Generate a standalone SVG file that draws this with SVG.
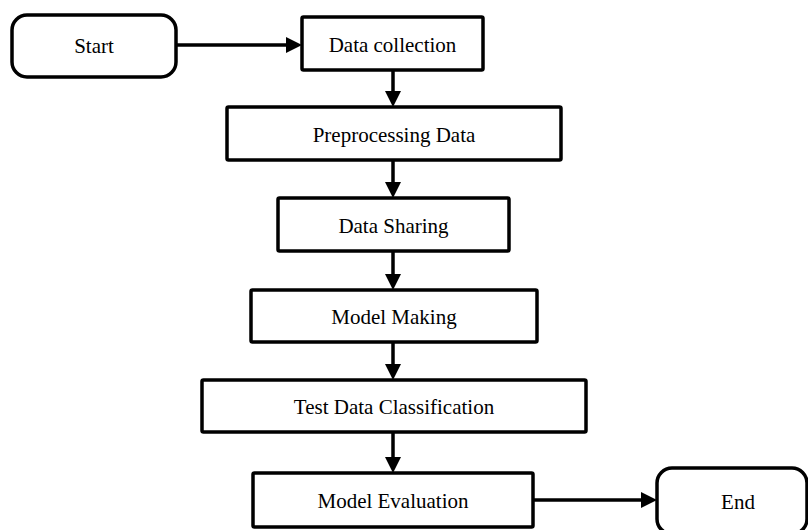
<svg xmlns="http://www.w3.org/2000/svg" width="808" height="530" viewBox="0 0 808 530">
<defs>
<marker id="ah" markerUnits="userSpaceOnUse" markerWidth="16" markerHeight="16" refX="8" refY="8" orient="auto" viewBox="0 0 16 16">
<path d="M0,0 L16,8 L0,16 z" fill="#000"/>
</marker>
</defs>
<style>
.box{fill:#fff;stroke:#000;stroke-width:3.5}
.lbl{font-family:"Liberation Serif","Times New Roman",serif;font-size:21px;fill:#000;text-anchor:middle}
.conn{stroke:#000;stroke-width:3.5;fill:none;marker-end:url(#ah)}
</style>
<rect width="808" height="530" fill="#fff"/>
<g id="connectors">
<line class="conn" x1="176" y1="45" x2="294" y2="45"/>
<line class="conn" x1="393" y1="70" x2="393" y2="99"/>
<line class="conn" x1="393" y1="160" x2="393" y2="190"/>
<line class="conn" x1="393" y1="251" x2="393" y2="282"/>
<line class="conn" x1="393" y1="342" x2="393" y2="372"/>
<line class="conn" x1="393" y1="432" x2="393" y2="465"/>
<line class="conn" x1="533" y1="500" x2="649" y2="500"/>
</g>
<g id="start">
<rect class="box" x="12" y="15" width="164" height="62" rx="15"/>
<text class="lbl" x="94" y="53">Start</text>
</g>
<g id="data-collection">
<rect class="box" x="302" y="17" width="181" height="53" rx="1.5"/>
<text class="lbl" x="392.5" y="52">Data collection</text>
</g>
<g id="preprocessing">
<rect class="box" x="227" y="107" width="334" height="53" rx="1.5"/>
<text class="lbl" x="394" y="142">Preprocessing Data</text>
</g>
<g id="data-sharing">
<rect class="box" x="278" y="198" width="231" height="53" rx="1.5"/>
<text class="lbl" x="393.5" y="233">Data Sharing</text>
</g>
<g id="model-making">
<rect class="box" x="251" y="290" width="286" height="52" rx="1.5"/>
<text class="lbl" x="394" y="324">Model Making</text>
</g>
<g id="test-data-classification">
<rect class="box" x="202" y="380" width="384" height="52" rx="1.5"/>
<text class="lbl" x="394" y="414">Test Data Classification</text>
</g>
<g id="model-evaluation">
<rect class="box" x="253" y="473" width="280" height="54" rx="1.5"/>
<text class="lbl" x="393" y="508">Model Evaluation</text>
</g>
<g id="end">
<rect class="box" x="657" y="468" width="150" height="66" rx="15"/>
<text class="lbl" x="738" y="509">End</text>
</g>
</svg>
